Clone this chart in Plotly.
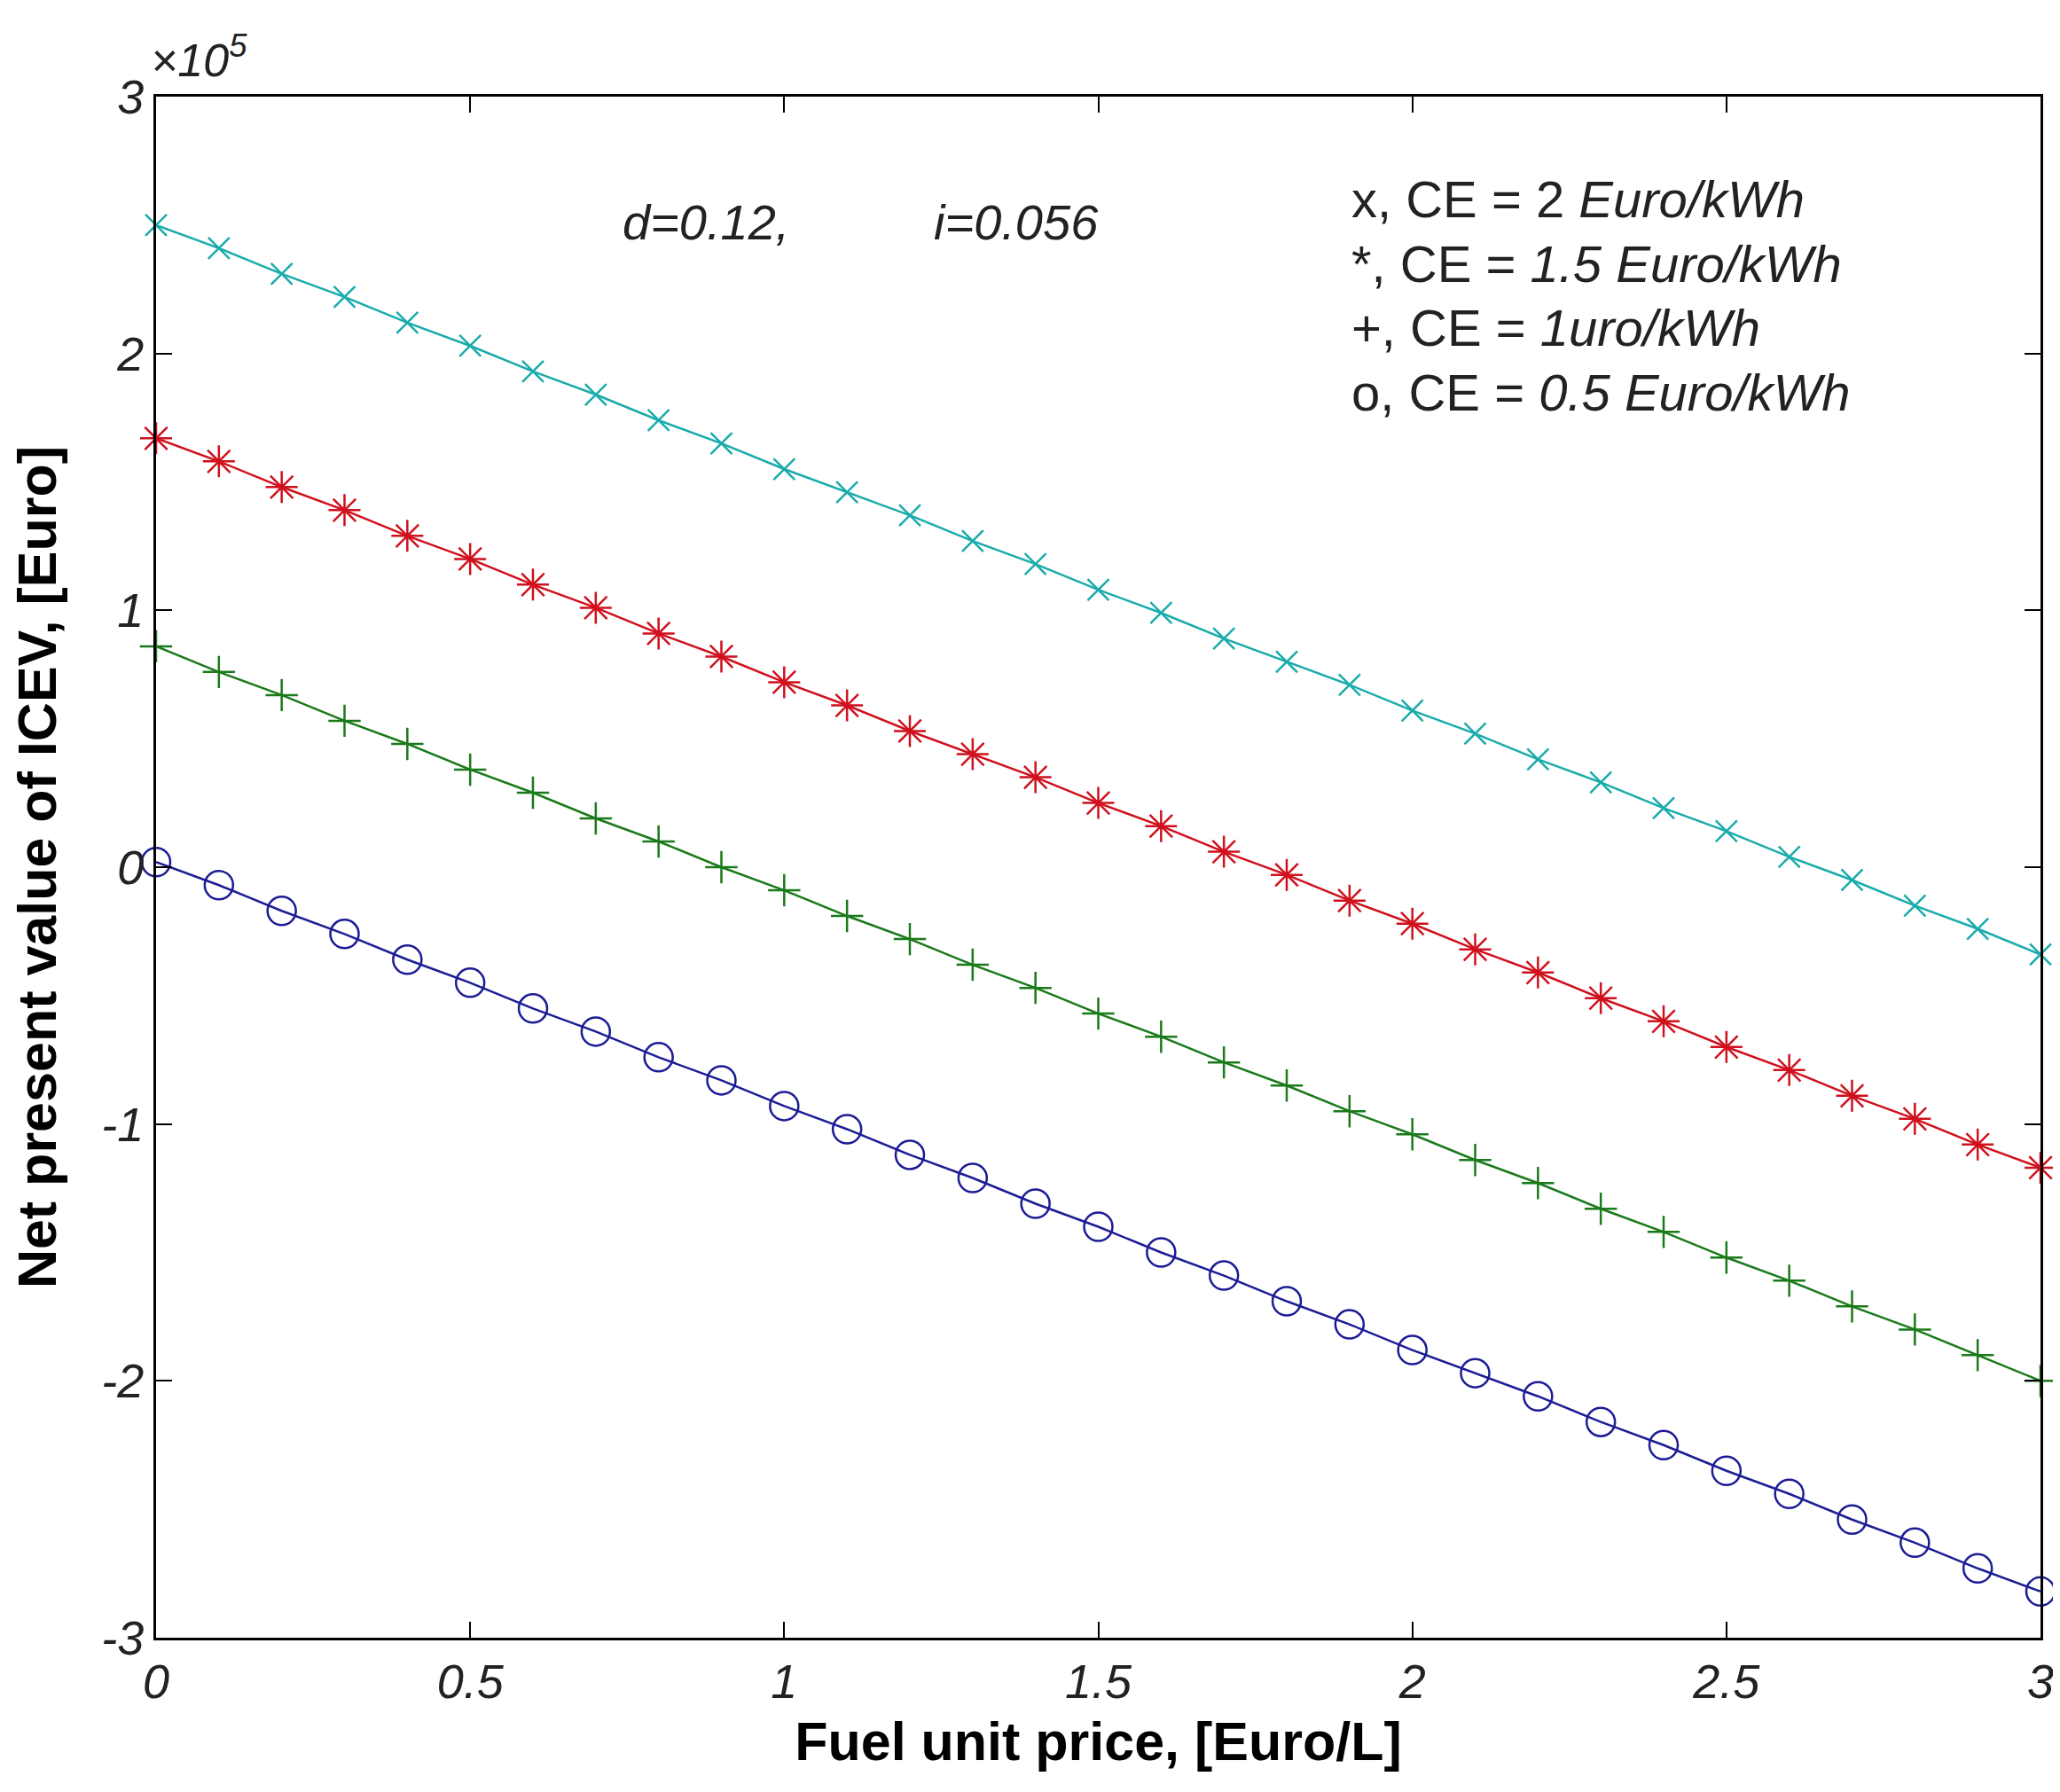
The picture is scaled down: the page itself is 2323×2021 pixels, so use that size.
import plotly.graph_objects as go

fuel_price = [round(0.1 * k, 1) for k in range(31)]

# Net present value of ICEV, in units of 1e5 Euro
npv_ce_2 = [2.50, 2.41, 2.31, 2.22, 2.12, 2.03, 1.93, 1.84, 1.74, 1.65, 1.55,
            1.46, 1.37, 1.27, 1.18, 1.08, 0.99, 0.89, 0.80, 0.71, 0.61,
            0.52, 0.42, 0.33, 0.23, 0.14, 0.04, -0.05, -0.15, -0.24, -0.34]
npv_ce_15 = [1.67, 1.58, 1.48, 1.39, 1.29, 1.20, 1.10, 1.01, 0.91, 0.82, 0.72,
             0.63, 0.53, 0.44, 0.35, 0.25, 0.16, 0.06, -0.03, -0.13, -0.22,
             -0.32, -0.41, -0.51, -0.60, -0.70, -0.79, -0.89, -0.98, -1.08, -1.17]
npv_ce_1 = [0.86, 0.76, 0.67, 0.57, 0.48, 0.38, 0.29, 0.19, 0.10, 0.00, -0.09,
            -0.19, -0.28, -0.38, -0.47, -0.57, -0.66, -0.76, -0.85, -0.95, -1.04,
            -1.14, -1.23, -1.33, -1.42, -1.52, -1.61, -1.71, -1.80, -1.90, -2.00]
npv_ce_05 = [0.02, -0.07, -0.17, -0.26, -0.36, -0.45, -0.55, -0.64, -0.74, -0.83, -0.93,
             -1.02, -1.12, -1.21, -1.31, -1.40, -1.50, -1.59, -1.69, -1.78, -1.88,
             -1.97, -2.06, -2.16, -2.25, -2.35, -2.44, -2.54, -2.63, -2.73, -2.82]

x_ticks = [0, 0.5, 1, 1.5, 2, 2.5, 3]
x_tick_labels = ["0", "0.5", "1", "1.5", "2", "2.5", "3"]
y_ticks = [-3, -2, -1, 0, 1, 2, 3]
y_tick_labels = ["-3", "-2", "-1", "0", "1", "2", "3"]

legend_lines = [
    "x, CE = 2 <i>Euro/kWh</i>",
    "*, CE = <i>1.5 Euro/kWh</i>",
    "+, CE = <i>1uro/kWh</i>",
    "o, CE = <i>0.5 Euro/kWh</i>",
]

series = [
    (npv_ce_2, "#1aabab", "x-thin-open", 24),
    (npv_ce_15, "#d0101c", "asterisk-open", 30),
    (npv_ce_1, "#1a7a1a", "cross-thin-open", 26),
    (npv_ce_05, "#1c1c96", "circle-open", 32),
]

fig = go.Figure()
for vals, col, sym, sz in series:
    fig.add_trace(go.Scatter(
        x=fuel_price, y=vals, mode="lines+markers",
        line=dict(color=col, width=2.5),
        marker=dict(symbol=sym, size=sz, color=col,
                    line=dict(color=col, width=2.5)),
        showlegend=False, cliponaxis=False,
    ))

font_family = "Liberation Sans, Arial, sans-serif"

fig.update_layout(
    width=2323, height=2021,
    margin=dict(l=168, r=30, t=101, b=182),
    paper_bgcolor="white", plot_bgcolor="white",
    font=dict(family=font_family, color="black"),
)
fig.update_xaxes(
    range=[0, 3], tickvals=x_ticks, ticktext=x_tick_labels,
    showline=True, linecolor="black", linewidth=3, mirror="ticks",
    ticks="inside", ticklen=18, tickwidth=2, tickcolor="black",
    showgrid=False, zeroline=False,
    tickfont=dict(size=54, style="italic", color="#222"),
    title=dict(text="<b>Fuel unit price, [Euro/L]</b>",
               font=dict(size=61), standoff=18),
)
fig.update_yaxes(
    range=[-3, 3], tickvals=y_ticks, ticktext=y_tick_labels,
    showline=True, linecolor="black", linewidth=3, mirror="ticks",
    ticks="inside", ticklen=18, tickwidth=2, tickcolor="black",
    showgrid=False, zeroline=False,
    tickfont=dict(size=54, style="italic", color="#222"),
    title=dict(text="<b>Net present value of ICEV, [Euro]</b>",
               font=dict(size=61), standoff=36),
)

fig.add_annotation(text="×10<sup>5</sup>", xref="paper", yref="paper",
                   x=0, y=1, xanchor="left", yanchor="bottom", yshift=10, xshift=-8,
                   showarrow=False, font=dict(size=52, style="italic", color="#222"))
fig.add_annotation(text="<i>d=0.12,</i>", xref="x", yref="y",
                   x=0.74, y=2.51, xanchor="left", yanchor="middle",
                   showarrow=False, font=dict(size=56, color="#222"))
fig.add_annotation(text="<i>i=0.056</i>", xref="x", yref="y",
                   x=1.235, y=2.51, xanchor="left", yanchor="middle",
                   showarrow=False, font=dict(size=56, color="#222"))
legend_y = [2.60, 2.35, 2.10, 1.85]
for txt, yy in zip(legend_lines, legend_y):
    fig.add_annotation(text=txt, xref="x", yref="y", x=1.9, y=yy,
                       xanchor="left", yanchor="middle", showarrow=False,
                       font=dict(size=58, color="#222"))

fig.write_html("out.html")
